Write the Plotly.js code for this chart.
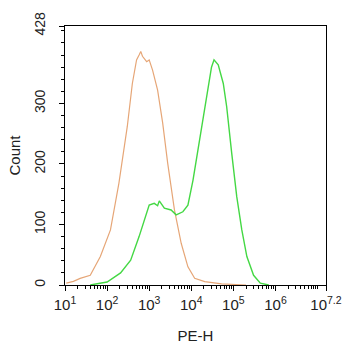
<!DOCTYPE html>
<html>
<head>
<meta charset="utf-8">
<script src="https://cdn.plot.ly/plotly-3.0.1.min.js"></script>
<style>html,body{margin:0;padding:0;background:#fff;}#chart{width:342px;height:350px;}</style>
</head>
<body>
<div id="chart"></div>
<script>
// log10 of PE-H and counts
const isoLogX = [1.03, 1.2, 1.36, 1.6, 1.84, 2.08, 2.28, 2.48, 2.6, 2.7, 2.76, 2.8, 2.84, 2.88, 2.94, 3.0, 3.08, 3.2, 3.32, 3.44, 3.6, 3.76, 3.92, 4.08, 4.32, 4.72, 5.0, 5.3];
const isoCount = [3, 6, 11, 16, 47, 91, 168, 262, 333, 372, 380, 386, 378, 375, 369, 372, 355, 322, 268, 201, 124, 69, 30, 11, 5.5, 2, 1, 0];
const stainLogX = [1.6, 2.0, 2.32, 2.56, 2.76, 2.92, 3.0, 3.12, 3.2, 3.24, 3.36, 3.52, 3.64, 3.8, 3.92, 4.04, 4.16, 4.28, 4.4, 4.48, 4.54, 4.64, 4.76, 4.84, 4.96, 5.08, 5.2, 5.32, 5.48, 5.64, 5.84];
const stainCount = [0, 5, 20, 41, 80, 113, 132, 135, 131, 139, 127, 124, 116, 121, 132, 173, 223, 273, 322, 360, 372, 364, 333, 295, 218, 146, 91, 47, 16, 3, 0];
const xTickExp = ['1', '2', '3', '4', '5', '6', '7.2'];
const yTickVals = [0, 100, 200, 300, 428];

const toX = a => a.map(v => Math.pow(10, v));
const xTickVals = xTickExp.map(e => Math.pow(10, parseFloat(e)));
const xTickText = xTickExp.map(e => '10<sup>' + e + '</sup>');

const traces = [
  {x: toX(isoLogX), y: isoCount, mode: 'lines', line: {color: '#E6A677', width: 1.2}, hoverinfo: 'skip'},
  {x: toX(stainLogX), y: stainCount, mode: 'lines', line: {color: '#44D844', width: 1.4}, hoverinfo: 'skip'}
];

const layout = {
  width: 342, height: 350,
  margin: {l: 65, r: 16, t: 26, b: 65},
  paper_bgcolor: '#fff', plot_bgcolor: '#fff',
  showlegend: false,
  font: {family: 'Liberation Sans, Arial, sans-serif', color: '#222'},
  xaxis: {
    type: 'log', range: [1, 7.2],
    tickmode: 'array', tickvals: xTickVals, ticktext: xTickText,
    ticks: 'outside', ticklen: 5, tickcolor: '#000', tickwidth: 1,
    minor: {ticks: 'outside', ticklen: 3, tickcolor: '#000', dtick: 'D1', showgrid: false},
    showgrid: false, zeroline: false,
    showline: true, linecolor: '#000', linewidth: 1, mirror: true,
    tickfont: {size: 15, color: '#222'},
    ticklabeloverflow: 'allow',
    ticklabelstandoff: 1,
    title: {text: 'PE-H', font: {size: 15, color: '#222'}, standoff: 18}
  },
  yaxis: {
    range: [0, 428],
    tickmode: 'array', tickvals: yTickVals, ticktext: yTickVals.map(String),
    tickangle: -90,
    ticks: 'outside', ticklen: 5, tickcolor: '#000', tickwidth: 1,
    minor: {ticks: 'outside', ticklen: 3, tickcolor: '#000', tick0: 0, dtick: 20, showgrid: false},
    showgrid: false, zeroline: false,
    showline: true, linecolor: '#000', linewidth: 1, mirror: true,
    tickfont: {size: 14, color: '#222'},
    ticklabeloverflow: 'allow',
    ticklabelstandoff: 8,
    title: {text: 'Count', font: {size: 15, color: '#222'}, standoff: 8}
  }
};

Plotly.newPlot('chart', traces, layout, {displayModeBar: false, staticPlot: true});
</script>
</body>
</html>
